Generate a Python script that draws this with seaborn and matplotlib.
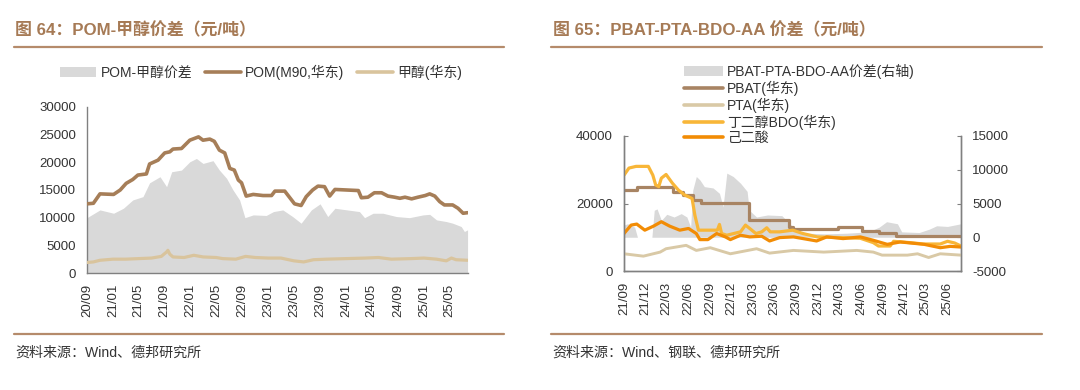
import matplotlib
matplotlib.use("Agg")
import matplotlib.pyplot as plt
import matplotlib.dates as mdates
from matplotlib.patches import Patch
from matplotlib.lines import Line2D
import pandas as pd
import seaborn as sns

sns.set_theme(style="white")
plt.rcParams['font.family'] = ['Liberation Sans', 'Noto Sans CJK SC']
plt.rcParams['axes.unicode_minus'] = False

# ---------------- data: left chart (POM) ----------------
pom_dates = ["2020-09-01", "2020-10-01", "2020-11-01", "2021-01-04", "2021-02-04", "2021-03-04",
             "2021-04-04", "2021-04-28", "2021-06-07", "2021-06-22", "2021-08-01", "2021-09-01",
             "2021-09-25", "2021-10-10", "2021-11-19", "2021-12-28", "2022-02-07", "2022-02-28",
             "2022-04-01", "2022-04-22", "2022-05-16", "2022-06-10", "2022-07-04", "2022-07-25",
             "2022-08-13", "2022-08-28", "2022-09-19", "2022-10-22", "2022-12-07", "2023-01-16",
             "2023-02-01", "2023-03-19", "2023-04-10", "2023-05-04", "2023-06-04", "2023-06-28",
             "2023-07-28", "2023-08-22", "2023-09-22", "2023-10-16", "2023-11-10", "2024-01-04",
             "2024-02-28", "2024-03-13", "2024-04-13", "2024-05-13", "2024-06-16", "2024-07-16",
             "2024-08-16", "2024-09-10", "2024-10-04", "2024-11-04", "2024-12-04", "2025-01-07",
             "2025-01-28", "2025-02-21", "2025-03-16", "2025-04-07", "2025-05-16", "2025-06-10",
             "2025-07-04", "2025-07-25"]
pom_values = [12500, 12600, 14300, 14200, 15000, 16200, 16900, 17700, 17900, 19700, 20400, 21700,
              21900, 22400, 22500, 24000, 24600, 24000, 24200, 23800, 22200, 21700, 18900, 18600,
              16800, 16300, 13900, 14200, 14000, 14000, 14800, 14800, 13700, 12500, 12200, 13800,
              15000, 15700, 15600, 13900, 15100, 15000, 14900, 13600, 13700, 14500, 14500, 13900,
              13700, 13500, 13700, 13400, 13700, 14000, 14300, 13900, 12900, 12300, 12300, 11700,
              10800, 10900]

meoh_dates = ["2020-09-01", "2020-10-01", "2020-11-01", "2021-01-01", "2021-03-01", "2021-05-01",
              "2021-07-01", "2021-08-16", "2021-09-10", "2021-09-16", "2021-09-25", "2021-10-10",
              "2021-12-01", "2022-01-16", "2022-03-01", "2022-05-01", "2022-06-01", "2022-08-01",
              "2022-09-16", "2022-11-01", "2023-01-01", "2023-03-01", "2023-05-01", "2023-06-16",
              "2023-08-01", "2023-10-01", "2024-01-01", "2024-04-01", "2024-06-01", "2024-08-01",
              "2024-11-01", "2025-01-01", "2025-03-01", "2025-04-16", "2025-05-10", "2025-06-01",
              "2025-07-25"]
meoh_values = [1900, 2000, 2300, 2500, 2500, 2600, 2700, 3000, 3800, 4100, 3400, 2900,
               2800, 3200, 2900, 2800, 2600, 2500, 3000, 2800, 2700, 2700, 2200, 2000,
               2400, 2500, 2600, 2700, 2800, 2500, 2600, 2700, 2500, 2200, 2700, 2400, 2300]

spread_dates = ["2020-09-01", "2020-11-01", "2021-01-04", "2021-02-19", "2021-04-04", "2021-05-22",
                "2021-06-22", "2021-08-10", "2021-09-10", "2021-10-04", "2021-11-19", "2021-12-28",
                "2022-01-28", "2022-02-28", "2022-04-16", "2022-05-16", "2022-06-19", "2022-07-19",
                "2022-08-19", "2022-09-13", "2022-10-22", "2022-12-22", "2023-01-25", "2023-03-10",
                "2023-04-25", "2023-06-04", "2023-07-22", "2023-09-01", "2023-10-07", "2023-11-10",
                "2024-03-04", "2024-03-28", "2024-05-07", "2024-06-22", "2024-08-25", "2024-10-25",
                "2024-12-28", "2025-01-28", "2025-03-01", "2025-04-16", "2025-05-16", "2025-06-25",
                "2025-07-10", "2025-07-25"]
spread_values = [10000, 11400, 10800, 11700, 13200, 13800, 16300, 17400, 15600, 18300, 18600, 20100,
                 20700, 19800, 20300, 18600, 17100, 15000, 13200, 10000, 10500, 10400, 11100, 11400,
                 10200, 9000, 11400, 12500, 10200, 11700, 11100, 10000, 10800, 10800, 10200, 10000,
                 10500, 10600, 9600, 9300, 9000, 8400, 7500, 7800]

# ---------------- data: right chart (PBAT) ----------------
pbat_dates = ["2021-09-01", "2021-10-25", "2022-03-28", "2022-05-10", "2022-06-19", "2022-07-25",
              "2023-02-13", "2023-08-01", "2023-08-19", "2024-02-25", "2024-06-04", "2024-08-16",
              "2024-10-25", "2025-07-28"]
pbat_values = [24000, 25000, 23400, 22500, 21000, 20200, 15200, 13100, 12300, 12900, 11800, 11200,
               10500, 10500]

pta_dates = ["2021-09-01", "2021-11-22", "2022-02-01", "2022-02-26", "2022-05-22", "2022-07-04",
             "2022-09-01", "2022-11-25", "2023-03-16", "2023-05-10", "2023-08-19", "2023-12-25",
             "2024-05-13", "2024-07-22", "2024-08-28", "2024-12-13", "2025-01-25", "2025-03-13",
             "2025-05-01", "2025-07-28"]
pta_values = [5100, 4400, 5600, 6600, 7600, 6100, 6900, 5100, 6600, 5300, 6100, 5600,
              6100, 5600, 4700, 4700, 5100, 4000, 5100, 4700]

bdo_dates = ["2021-09-01", "2021-09-22", "2021-10-22", "2021-12-13", "2022-01-01", "2022-01-13",
             "2022-01-26", "2022-02-06", "2022-02-26", "2022-03-25", "2022-04-19", "2022-05-16",
             "2022-06-16", "2022-06-28", "2022-07-13", "2022-10-01", "2022-10-10", "2022-10-19",
             "2022-11-10", "2023-01-07", "2023-01-28", "2023-02-15", "2023-03-13", "2023-04-07",
             "2023-04-28", "2023-05-13", "2023-06-22", "2023-08-16", "2023-09-28", "2023-11-28",
             "2024-03-04", "2024-05-28", "2024-07-22", "2024-08-13", "2024-10-01", "2024-10-16",
             "2024-12-25", "2025-02-19", "2025-05-01", "2025-06-01", "2025-07-01", "2025-07-28"]
bdo_values = [28400, 30500, 31000, 31000, 28400, 25500, 25000, 27500, 28600, 26000, 24000, 22500,
              21500, 16500, 12100, 12100, 13800, 11100, 10600, 11600, 13600, 12600, 11100, 11600,
              12800, 11600, 11600, 12100, 11100, 10100, 9900, 9700, 8400, 7400, 7400, 8800,
              8400, 8000, 8000, 8800, 8300, 7400]

aa_dates = ["2021-09-01", "2021-10-01", "2021-10-25", "2021-11-28", "2022-01-04", "2022-02-06",
            "2022-03-13", "2022-04-25", "2022-06-01", "2022-07-04", "2022-07-19", "2022-08-22",
            "2022-09-28", "2022-11-04", "2022-11-25", "2023-01-07", "2023-02-15", "2023-04-07",
            "2023-05-10", "2023-06-22", "2023-08-19", "2023-11-25", "2024-01-07", "2024-03-16",
            "2024-05-28", "2024-07-22", "2024-09-19", "2024-11-13", "2025-02-22", "2025-05-01",
            "2025-06-13", "2025-07-28"]
aa_values = [11100, 13600, 13900, 12100, 13300, 14600, 13300, 12100, 12600, 11100, 9300, 9300,
             11100, 10100, 9300, 10600, 10100, 10300, 8900, 9900, 10100, 8900, 10100, 9600,
             10100, 9100, 7900, 8600, 7900, 6900, 7300, 7100]

gap_dates = ["2021-09-01", "2021-09-16", "2021-10-16", "2021-10-28", "2021-12-28", "2022-01-07",
             "2022-01-19", "2022-02-06", "2022-03-01", "2022-04-01", "2022-05-01", "2022-05-25",
             "2022-06-10", "2022-06-19", "2022-07-04", "2022-07-19", "2022-08-07", "2022-09-13",
             "2022-10-10", "2022-10-25", "2022-11-10", "2022-12-07", "2023-01-07", "2023-02-04",
             "2023-02-13", "2023-03-16", "2023-05-01", "2023-07-01", "2023-08-04", "2023-09-01",
             "2023-10-16", "2024-01-01", "2024-04-01", "2024-07-01", "2024-08-16", "2024-09-16",
             "2024-11-01", "2024-11-19", "2025-02-01", "2025-03-16", "2025-04-16", "2025-06-01",
             "2025-07-28"]
gap_values = [1800, 2000, 1500, 0, 0, 4000, 4200, 2500, 3400, 3000, 3500, 3000,
              1500, 7000, 9000, 8500, 7500, 7300, 6500, 4500, 9500, 9000, 8000, 6800,
              4000, 3000, 3300, 3200, 2000, 1000, 600, 500, 600, 800, 1500, 2300,
              2000, 800, 700, 1200, 1700, 1600, 2000]

left_yticks = [0, 5000, 10000, 15000, 20000, 25000, 30000]
right_yticks_l = [0, 20000, 40000]
right_yticks_r = [-5000, 0, 5000, 10000, 15000]

# ---------------- styles ----------------
BROWN = "#A67E58"
TAN = "#D9C49D"
GRAY = "#D9D9D9"
PBAT_C = "#A88463"
PTA_C = "#D9C9A6"
BDO_C = "#F8B638"
AA_C = "#F28C05"
TITLE_C = "#A67A55"
RULE_C = "#B58B6B"
TXT = "#333333"
SPINE = "#808080"

W, H = 1080, 390
fig = plt.figure(figsize=(W / 100, H / 100), dpi=100)
fig.patch.set_facecolor("white")


def df_of(dates, values):
    return pd.DataFrame({"date": pd.to_datetime(dates), "value": values})


def style_axis(ax, spines):
    for side in ["left", "right", "top", "bottom"]:
        ax.spines[side].set_visible(side in spines)
        ax.spines[side].set_color(SPINE)
        ax.spines[side].set_linewidth(1.0)
    ax.tick_params(axis="both", direction="in", length=3, width=0.8, color=SPINE,
                   labelsize=9.5, labelcolor=TXT, pad=8)
    ax.set_xlabel("")
    ax.set_ylabel("")
    ax.grid(False)


# ---------------- left chart ----------------
axL = fig.add_axes([87 / W, 1 - 273 / H, (468 - 87) / W, (273 - 107) / H])
sp = df_of(spread_dates, spread_values)
axL.fill_between(sp["date"], 0, sp["value"], color=GRAY, linewidth=0, zorder=1)
sns.lineplot(data=df_of(pom_dates, pom_values), x="date", y="value", ax=axL,
             color=BROWN, linewidth=2.6, zorder=3)
sns.lineplot(data=df_of(meoh_dates, meoh_values), x="date", y="value", ax=axL,
             color=TAN, linewidth=2.3, zorder=3)
axL.set_ylim(0, 30000)
axL.set_yticks(left_yticks)
axL.set_xlim(pd.Timestamp("2020-09-01"), pd.Timestamp("2025-07-27"))
axL.xaxis.set_major_locator(mdates.MonthLocator(bymonth=[1, 5, 9]))
axL.xaxis.set_major_formatter(mdates.DateFormatter("%y/%m"))
style_axis(axL, ["left", "bottom"])
for lab in axL.get_xticklabels():
    lab.set_rotation(90)

handlesL = [Patch(facecolor=GRAY, edgecolor="none"),
            Line2D([], [], color=BROWN, lw=2.6),
            Line2D([], [], color=TAN, lw=2.6)]
labelsL = ["POM-甲醇价差", "POM(M90,华东)", "甲醇(华东)"]
fig.legend(handlesL, labelsL, loc="center", bbox_to_anchor=(261 / W, 1 - 72 / H), ncol=3,
           frameon=False, fontsize=10, handlelength=2.6, handletextpad=0.3, columnspacing=0.9,
           labelcolor=TXT)

# ---------------- right chart ----------------
axR = fig.add_axes([624 / W, 1 - 271 / H, (961 - 624) / W, (271 - 136) / H])
axR2 = axR.twinx()
gp = df_of(gap_dates, gap_values)
axR2.fill_between(gp["date"], 0, gp["value"], color=GRAY, linewidth=0)
axR2.set_ylim(-5000, 15000)
axR2.set_yticks(right_yticks_r)
axR.set_zorder(axR2.get_zorder() + 1)
axR.patch.set_visible(False)

sns.lineplot(data=df_of(pta_dates, pta_values), x="date", y="value", ax=axR,
             color=PTA_C, linewidth=2.1)
sns.lineplot(data=df_of(pbat_dates, pbat_values), x="date", y="value", ax=axR,
             color=PBAT_C, linewidth=2.3, drawstyle="steps-post")
sns.lineplot(data=df_of(bdo_dates, bdo_values), x="date", y="value", ax=axR,
             color=BDO_C, linewidth=2.3)
sns.lineplot(data=df_of(aa_dates, aa_values), x="date", y="value", ax=axR,
             color=AA_C, linewidth=2.3)
axR.set_ylim(0, 40000)
axR.set_yticks(right_yticks_l)
axR.set_xlim(pd.Timestamp("2021-09-01"), pd.Timestamp("2025-07-28"))
axR.xaxis.set_major_locator(mdates.MonthLocator(bymonth=[3, 6, 9, 12]))
axR.xaxis.set_major_formatter(mdates.DateFormatter("%y/%m"))
style_axis(axR, ["left", "bottom", "right"])
style_axis(axR2, ["left", "bottom", "right"])
axR2.tick_params(axis="x", length=0)
for lab in axR.get_xticklabels():
    lab.set_rotation(90)

handlesR = [Patch(facecolor=GRAY, edgecolor="none"),
            Line2D([], [], color=PBAT_C, lw=2.6),
            Line2D([], [], color=PTA_C, lw=2.6),
            Line2D([], [], color=BDO_C, lw=2.6),
            Line2D([], [], color=AA_C, lw=2.6)]
labelsR = ["PBAT-PTA-BDO-AA价差(右轴)", "PBAT(华东)", "PTA(华东)", "丁二醇BDO(华东)", "己二酸"]
fig.legend(handlesR, labelsR, loc="upper left", bbox_to_anchor=(677 / W, 1 - 57 / H), ncol=1,
           frameon=False, fontsize=10, handlelength=2.8, handletextpad=0.3, labelspacing=0.12,
           labelcolor=TXT, borderpad=0)

# ---------------- titles, rules, sources ----------------
fig.text(15 / W, 1 - 30 / H, "图 64：POM-甲醇价差（元/吨）", fontsize=12.2, fontweight="bold",
         color=TITLE_C, ha="left", va="center")
fig.text(553 / W, 1 - 30 / H, "图 65：PBAT-PTA-BDO-AA 价差（元/吨）", fontsize=12.2,
         fontweight="bold", color=TITLE_C, ha="left", va="center")
for x0, x1 in [(14, 504), (551, 1042)]:
    fig.add_artist(Line2D([x0 / W, x1 / W], [1 - 47 / H] * 2, color=RULE_C, lw=1.6))
    fig.add_artist(Line2D([x0 / W, x1 / W], [1 - 334 / H] * 2, color=RULE_C, lw=1.6))
fig.text(15 / W, 1 - 353 / H, "资料来源：Wind、德邦研究所", fontsize=10.1, color=TXT,
         ha="left", va="center")
fig.text(552 / W, 1 - 353 / H, "资料来源：Wind、钢联、德邦研究所", fontsize=10.1, color=TXT,
         ha="left", va="center")

fig.savefig("out.png", dpi=100, facecolor="white")
